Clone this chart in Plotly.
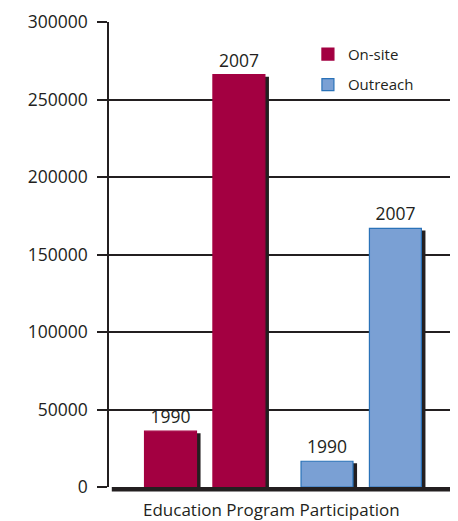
import plotly.graph_objects as go

# ---- data ----
programs = ["On-site", "Outreach"]
years = ["1990", "2007"]
onsite_values = [36000, 266000]
outreach_values = [16600, 166800]
y_ticks = [0, 50000, 100000, 150000, 200000, 250000, 300000]

# ---- style ----
INK = "#231F20"
RED = "#A30041"
BLUE = "#7AA0D4"
BLUE_EDGE = "#2A72B8"
FONT = "Open Sans"

bar_offsets = [-0.388, 0.049]
bar_width = 0.332
shadow_dx = 0.026
shadow_dy = 1300

fig = go.Figure()

series = [
    ("On-site", onsite_values, RED, RED, 0),
    ("Outreach", outreach_values, BLUE, BLUE_EDGE, 1),
]

# shadows first (drawn behind)
for name, vals, col, edge, idx in series:
    fig.add_trace(go.Bar(
        x=[programs[idx]] * len(vals), y=vals,
        base=[-shadow_dy] * len(vals),
        offset=[o + shadow_dx for o in bar_offsets], width=bar_width,
        marker=dict(color=INK, line=dict(width=0)),
        showlegend=False, hoverinfo="skip",
    ))

for name, vals, col, edge, idx in series:
    fig.add_trace(go.Bar(
        name=name,
        x=[programs[idx]] * len(vals), y=vals,
        offset=bar_offsets, width=bar_width,
        marker=dict(color=col, line=dict(color=edge, width=1.2)),
        text=years, textposition="outside",
        textfont=dict(family=FONT, size=17.5, color=INK),
        cliponaxis=False,
        legendgroup=name,
    ))

fig.update_layout(
    width=450, height=513,
    margin=dict(l=101, r=0, t=14, b=34),
    paper_bgcolor="white", plot_bgcolor="white",
    barmode="overlay",
    font=dict(family=FONT, color=INK),
    showlegend=True,
    legend=dict(
        x=0.57, y=0.966, xanchor="left", yanchor="top",
        font=dict(family=FONT, size=15, color=INK),
        bgcolor="rgba(0,0,0,0)", borderwidth=0,
        tracegroupgap=8,
    ),
    xaxis=dict(
        type="category", categoryorder="array", categoryarray=programs,
        range=[-0.615, 1.615], showticklabels=False, showgrid=False,
        zeroline=False, showline=False, ticks="",
    ),
    yaxis=dict(
        range=[0, 300000], tickvals=y_ticks,
        ticktext=[str(v) for v in y_ticks],
        showgrid=True, gridcolor=INK, gridwidth=1.5,
        zeroline=False, showline=True, linecolor=INK, linewidth=1.5,
        ticks="outside", ticklen=10, tickwidth=1.5, tickcolor=INK,
        ticklabelstandoff=6,
        tickfont=dict(family=FONT, size=17.5, color=INK),
    ),
    shapes=[dict(
        type="rect", xref="paper", yref="paper",
        x0=0.008, x1=1.0, y0=-0.0095, y1=0.0,
        fillcolor=INK, line=dict(width=0), layer="above",
    )],
    annotations=[dict(
        text="Education Program Participation",
        xref="paper", yref="paper", x=0.467, y=0,
        xanchor="center", yanchor="top", yshift=-9, showarrow=False,
        font=dict(family=FONT, size=17, color=INK),
    )],
)

fig.write_html("out.html")
